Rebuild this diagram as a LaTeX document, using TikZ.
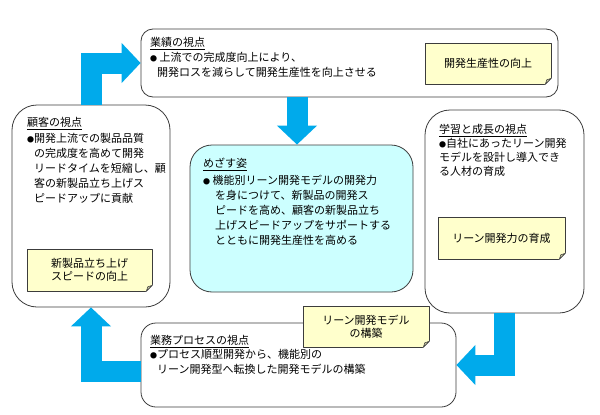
\documentclass[tikz,border=0pt]{standalone}
\usepackage{fontspec}
\newfontfamily\jpfont{Noto Sans CJK JP}
\usetikzlibrary{arrows.meta,positioning}
\definecolor{flowblue}{RGB}{0,170,235}
\definecolor{notefill}{RGB}{255,255,204}
\definecolor{notefold}{RGB}{205,205,165}
\definecolor{goalfill}{RGB}{204,255,255}
\definecolor{linegray}{RGB}{60,60,60}
\tikzset{
  viewbox/.style={draw=linegray,line width=0.8pt,rounded corners=#1,inner sep=0pt},
  notebox/.style={draw=linegray,line width=0.6pt,fill=notefill,align=center,inner sep=0pt,
    font=\jpfont\fontsize{11}{13}\selectfont},
  viewtext/.style={anchor=north west,align=left,inner sep=0pt,font=\jpfont\fontsize{11}{#1}\selectfont},
  flow/.style={draw=flowblue,line width=21pt,line join=miter,-{Triangle[width=39pt,length=19pt]}}
}
\newcommand{\bul}{\makebox[7pt][l]{\fontsize{7}{7}\selectfont ●}}
\newcommand{\dogear}[1]{%
  \fill[white] ([xshift=1pt,yshift=-1pt]#1.south east) -- ([xshift=1pt,yshift=7pt]#1.south east)
    -- ([xshift=-7pt,yshift=-1pt]#1.south east) -- cycle;
  \filldraw[fill=notefold,draw=linegray,line width=0.6pt,line join=round]
    ([yshift=6pt]#1.south east) -- ([xshift=-6pt]#1.south east) -- ([xshift=-4.5pt,yshift=4.5pt]#1.south east) -- cycle;}
\begin{document}
\begin{tikzpicture}[x=1pt,y=-1pt,line join=round]
  \useasboundingbox[fill=white] (0,0) rectangle (600,415);
  %視点の枠
  \node[viewbox=12pt,minimum width=417pt,minimum height=68pt] (gyoseki) at (349.5,63) {};
  \node[viewbox=25pt,minimum width=158pt,minimum height=202pt] (kokyaku) at (91,206) {};
  \node[viewbox=22pt,fill=goalfill,minimum width=223pt,minimum height=147pt] (mezasu) at (301.5,218.5) {};
  \node[viewbox=25pt,minimum width=159pt,minimum height=203pt] (gakushu) at (504.5,211.5) {};
  \node[viewbox=15pt,minimum width=315pt,minimum height=84pt] (gyomu) at (298.5,365) {};
  %枠の中の文
  \node[viewtext=15] (gyosekitxt) at (150,37) {\underline{業績の視点}\\
    \bul\ 上流での完成度向上により、\\ \hspace*{7pt}開発ロスを減らして開発生産性を向上させる};
  \node[viewtext=15] (kokyakutxt) at (27,117) {\underline{顧客の視点}\\[1pt]
    \bul 開発上流での製品品質\\ \hspace*{7pt}の完成度を高めて開発\\ \hspace*{7pt}リードタイムを短縮し、顧\\
    \hspace*{7pt}客の新製品立ち上げス\\ \hspace*{7pt}ピードアップに貢献};
  \node[viewtext=15] (mezasutxt) at (203,158) {\underline{めざす姿}\\[2pt]
    \bul\ 機能別リーン開発モデルの開発力\\ \hspace*{12pt}を身につけて、新製品の開発ス\\
    \hspace*{12pt}ピードを高め、顧客の新製品立ち\\ \hspace*{12pt}上げスピードアップをサポートする\\
    \hspace*{12pt}とともに開発生産性を高める};
  \node[viewtext=14] (gakushutxt) at (439,124) {\underline{学習と成長の視点}\\
    \bul 自社にあったリーン開発\\ モデルを設計し導入でき\\ る人材の育成};
  \node[viewtext=14.5] (gyomutxt) at (150,335) {\underline{業務プロセスの視点}\\
    \bul プロセス順型開発から、機能別の\\ \hspace*{7pt}リーン開発型へ転換した開発モデルの構築};
  %付箋
  \node[notebox,minimum width=126pt,minimum height=41pt] (gyosekinote) at (488,63.5) {開発生産性の向上};
  \dogear{gyosekinote}
  \node[notebox,minimum width=125pt,minimum height=42pt] (kokyakunote) at (89.5,270) {新製品立ち上げ\\スピードの向上};
  \dogear{kokyakunote}
  \node[notebox,minimum width=127pt,minimum height=42pt] (gakushunote) at (501.5,238) {リーン開発力の育成};
  \dogear{gakushunote}
  \node[notebox,minimum width=126pt,minimum height=41pt] (gyomunote) at (366,326.5) {リーン開発モデル\\の構築};
  \dogear{gyomunote}
  %矢印
  \draw[flow] (kokyaku.north) |- (gyoseki.west);
  \draw[flow] ([xshift=-4.5pt]mezasu.north |- gyoseki.south) -- ([xshift=-4.5pt]mezasu.north);
  \draw[flow] (gakushu.south) |- (gyomu.east);
  \draw[flow] ([yshift=-6pt]gyomu.west) -| (kokyaku.south);
\end{tikzpicture}
\end{document}
